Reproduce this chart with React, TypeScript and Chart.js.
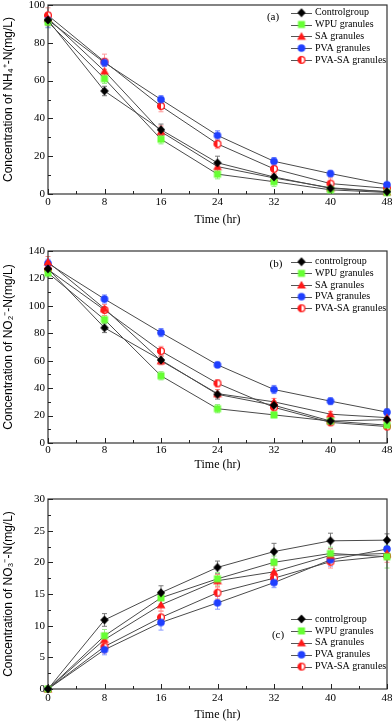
import React, { useEffect, useRef } from 'react';
import { Chart, registerables } from 'chart.js';
Chart.register(...registerables);

// ---------- data ----------
const TIMES = [0, 8, 16, 24, 32, 40, 48];

const NAMES_A = ['Controlgroup', 'WPU granules', 'SA granules', 'PVA granules', 'PVA-SA granules'];
const NAMES_BC = ['controlgroup', 'WPU granules', 'SA granules', 'PVA granules', 'PVA-SA granules'];

// (a) NH4+-N
const A_CONTROL = [92, 54.5, 34, 16.5, 9, 3, 1.2];
const A_WPU = [91, 61, 29, 10.5, 6.5, 2.2, 0.8];
const A_SA = [93, 65, 33, 14.5, 8.5, 3.3, 1.2];
const A_PVA = [92, 69.5, 50, 31, 17.3, 10.8, 4.9];
const A_PVASA = [94.5, 70, 46.5, 26.5, 13.3, 5.5, 3];
const A_CONTROL_ERR = [3, 2.5, 3, 3.5, 1.5, 1.5, 1];
const A_WPU_ERR = [3, 2.5, 2.5, 2.5, 2.5, 1.5, 1];
const A_SA_ERR = [3, 2.5, 3, 2.5, 2, 1.5, 1];
const A_PVA_ERR = [4, 2, 2, 2.5, 2, 1.5, 1];
const A_PVASA_ERR = [4, 4, 3, 2.5, 2.5, 3, 1.5];

// (b) NO2--N
const B_CONTROL = [127, 84, 60.5, 35.5, 27.5, 16, 17];
const B_WPU = [124, 90, 49, 25, 20.5, 16, 13];
const B_SA = [132, 98, 60, 36, 30, 21, 18.5];
const B_PVA = [131, 105, 80.5, 57, 39, 30.5, 22.5];
const B_PVASA = [126.5, 97, 67, 43.5, 26, 15, 12];
const B_CONTROL_ERR = [3, 3.5, 3, 3.5, 3, 2, 2];
const B_WPU_ERR = [3, 3, 3, 3, 2, 2, 2];
const B_SA_ERR = [4, 3, 3, 3, 2.5, 2, 2];
const B_PVA_ERR = [3, 3, 3, 2, 3, 2.5, 2.5];
const B_PVASA_ERR = [4, 4, 3.5, 2.5, 2.5, 2, 2];

// (c) NO3--N
const C_CONTROL = [0, 10.9, 15.2, 19.2, 21.7, 23.4, 23.5];
const C_WPU = [0, 8.4, 14.4, 17.4, 20, 21.4, 20.9];
const C_SA = [0, 7.8, 13.3, 17.1, 18.5, 21.1, 21.4];
const C_PVA = [0, 6.2, 10.5, 13.6, 16.8, 20.4, 22.1];
const C_PVASA = [0, 6.7, 11.3, 15.2, 17.5, 20.1, 21];
const C_CONTROL_ERR = [0, 1, 1.1, 1, 1.3, 1.2, 1];
const C_WPU_ERR = [0, 1, 1, 1, 1, 1, 1.8];
const C_SA_ERR = [0, 1, 1, 1, 1, 1, 1];
const C_PVA_ERR = [0, 0.8, 1.2, 1, 0.8, 1, 1];
const C_PVASA_ERR = [0, 1, 1, 1, 1, 1, 1];

// ---------- styles ----------
const STYLES = [
  { kind: 'diamond', color: '#000000', err: '#777777' },
  { kind: 'square', color: '#66ff33', err: '#99ee88' },
  { kind: 'triangle', color: '#ff1a1a', err: '#ff8888' },
  { kind: 'circle', color: '#1f3fff', err: '#8899ff' },
  { kind: 'half', color: '#ff1a1a', err: '#ff9999' },
];

const SERIF = '"Liberation Serif", "Times New Roman", serif';
const SANS = '"Liberation Sans", Arial, sans-serif';

function makeMarker(kind: string, color: string): HTMLCanvasElement {
  const c = document.createElement('canvas');
  const s = 10;
  c.width = s;
  c.height = s;
  const g = c.getContext('2d')!;
  const m = s / 2;
  g.fillStyle = color;
  g.strokeStyle = color;
  g.beginPath();
  if (kind === 'diamond') {
    g.moveTo(m, 0.5);
    g.lineTo(s - 0.8, m);
    g.lineTo(m, s - 0.5);
    g.lineTo(0.8, m);
    g.closePath();
    g.fill();
  } else if (kind === 'square') {
    g.fillRect(1.5, 1.5, 7, 7);
  } else if (kind === 'triangle') {
    g.moveTo(m, 0.8);
    g.lineTo(s - 0.6, s - 1.5);
    g.lineTo(0.6, s - 1.5);
    g.closePath();
    g.fill();
  } else if (kind === 'circle') {
    g.arc(m, m, 3.8, 0, Math.PI * 2);
    g.fill();
  } else {
    g.fillStyle = '#ffffff';
    g.arc(m, m, 3.4, 0, Math.PI * 2);
    g.fill();
    g.beginPath();
    g.fillStyle = color;
    g.arc(m, m, 3.4, Math.PI / 2, (Math.PI * 3) / 2);
    g.closePath();
    g.fill();
    g.beginPath();
    g.lineWidth = 1.3;
    g.arc(m, m, 3.4, 0, Math.PI * 2);
    g.stroke();
  }
  return c;
}

// ---------- plugins ----------
const errorBarPlugin = {
  id: 'errbars',
  beforeDatasetsDraw(chart: any) {
    const { ctx } = chart;
    const xs = chart.scales.x;
    const ys = chart.scales.y;
    chart.data.datasets.forEach((ds: any) => {
      const errs: number[] = ds.errors;
      if (!errs) return;
      ctx.save();
      ctx.strokeStyle = ds.errColor;
      ctx.lineWidth = 1;
      ds.data.forEach((p: any, j: number) => {
        const e = errs[j];
        if (!e) return;
        const x = xs.getPixelForValue(p.x);
        const y1 = ys.getPixelForValue(p.y + e);
        const y2 = ys.getPixelForValue(p.y - e);
        ctx.beginPath();
        ctx.moveTo(x, y1);
        ctx.lineTo(x, y2);
        ctx.moveTo(x - 2.5, y1);
        ctx.lineTo(x + 2.5, y1);
        ctx.moveTo(x - 2.5, y2);
        ctx.lineTo(x + 2.5, y2);
        ctx.stroke();
      });
      ctx.restore();
    });
  },
};

const framePlugin = {
  id: 'frame',
  beforeDatasetsDraw(chart: any) {
    const { ctx, chartArea: ca } = chart;
    const xs = chart.scales.x;
    const ys = chart.scales.y;
    ctx.save();
    ctx.strokeStyle = '#333333';
    ctx.lineWidth = 1.2;
    ctx.strokeRect(ca.left, ca.top, ca.right - ca.left, ca.bottom - ca.top);
    ctx.lineWidth = 1;
    ctx.strokeStyle = '#222222';
    ctx.beginPath();
    const xt = xs.ticks.map((t: any) => t.value);
    xt.forEach((v: number, i: number) => {
      const px = Math.round(xs.getPixelForValue(v)) + 0.5;
      ctx.moveTo(px, ca.bottom);
      ctx.lineTo(px, ca.bottom - 5);
      if (i < xt.length - 1) {
        const mx = Math.round(xs.getPixelForValue((v + xt[i + 1]) / 2)) + 0.5;
        ctx.moveTo(mx, ca.bottom);
        ctx.lineTo(mx, ca.bottom - 3);
      }
    });
    const yt = ys.ticks.map((t: any) => t.value);
    yt.forEach((v: number, i: number) => {
      const py = Math.round(ys.getPixelForValue(v)) + 0.5;
      ctx.moveTo(ca.left, py);
      ctx.lineTo(ca.left + 5, py);
      if (i < yt.length - 1) {
        const my = Math.round(ys.getPixelForValue((v + yt[i + 1]) / 2)) + 0.5;
        ctx.moveTo(ca.left, my);
        ctx.lineTo(ca.left + 3, my);
      }
    });
    ctx.stroke();
    ctx.restore();
  },
};

const legendPlugin = {
  id: 'inlegend',
  afterDatasetsDraw(chart: any, _args: any, opts: any) {
    const { ctx, chartArea: ca } = chart;
    ctx.save();
    const x0 = ca.right - opts.dx;
    let y = opts.anchor === 'top' ? ca.top + opts.dy : ca.bottom - opts.dy;
    chart.data.datasets.forEach((ds: any) => {
      ctx.strokeStyle = '#555555';
      ctx.lineWidth = 1;
      ctx.beginPath();
      ctx.moveTo(x0, Math.round(y) + 0.5);
      ctx.lineTo(x0 + 21, Math.round(y) + 0.5);
      ctx.stroke();
      const img = ds.pointStyle as HTMLCanvasElement;
      ctx.drawImage(img, x0 + 10.5 - img.width / 2, y - img.height / 2);
      ctx.fillStyle = '#000000';
      ctx.font = '10px ' + SERIF;
      ctx.textBaseline = 'middle';
      ctx.textAlign = 'left';
      ctx.fillText(ds.label, x0 + 24, y);
      y += opts.gap;
    });
    ctx.font = '11px ' + SERIF;
    ctx.textAlign = 'center';
    ctx.textBaseline = 'middle';
    ctx.fillStyle = '#000000';
    const ty = opts.tagAnchor === 'top' ? ca.top + opts.tagDy : ca.bottom - opts.tagDy;
    ctx.fillText(opts.tag, ca.right - opts.tagDx, ty);
    ctx.restore();
  },
};

// ---------- panel ----------
type PanelProps = {
  top: number;
  height: number;
  padTop: number;
  xH: number;
  tickPad: number;
  yMax: number;
  yStep: number;
  yTitle: string;
  names: string[];
  values: number[][];
  errors: number[][];
  legend: any;
};

function Panel(p: PanelProps) {
  const ref = useRef<HTMLCanvasElement | null>(null);
  useEffect(() => {
    const canvas = ref.current!;
    const chartBottom = p.height - 0; // placeholder
    const datasets = p.names.map((name, i) => {
      const st = STYLES[i];
      return {
        label: name,
        data: TIMES.map((t, j) => ({ x: t, y: p.values[i][j] })),
        errors: p.errors[i],
        errColor: st.err,
        borderColor: '#4a4a4a',
        borderWidth: 1,
        pointStyle: makeMarker(st.kind, st.color),
        pointRadius: 4,
        pointHoverRadius: 4,
        fill: false,
        tension: 0,
        clip: false,
      } as any;
    });
    const chart = new Chart(canvas, {
      type: 'line',
      data: { datasets },
      plugins: [errorBarPlugin, framePlugin, legendPlugin],
      options: {
        animation: false,
        responsive: false,
        events: [],
        layout: {
          padding: { top: p.padTop, right: 4, left: 0, bottom: p.height - p.padTop - p.plotH - p.xH },
        },
        plugins: {
          legend: { display: false },
          tooltip: { enabled: false },
          inlegend: p.legend,
        } as any,
        scales: {
          x: {
            type: 'linear',
            min: 0,
            max: 48,
            ticks: {
              stepSize: 8,
              autoSkip: false,
              maxRotation: 0,
              color: '#000000',
              padding: p.tickPad,
              font: { family: SERIF, size: 11 },
            },
            grid: { display: false, drawTicks: false },
            border: { display: false },
            title: {
              display: true,
              text: 'Time (hr)',
              color: '#000000',
              padding: 0,
              font: { family: SERIF, size: 12, lineHeight: 1 },
            },
            afterFit: (s: any) => {
              s.height = p.xH;
              s.paddingLeft = 0;
              s.paddingRight = 0;
            },
          },
          y: {
            min: 0,
            max: p.yMax,
            ticks: {
              stepSize: p.yStep,
              color: '#000000',
              padding: 3,
              font: { family: SERIF, size: 11 },
            },
            grid: { display: false, drawTicks: false },
            border: { display: false },
            title: {
              display: true,
              text: p.yTitle,
              color: '#000000',
              padding: { top: 1, bottom: 0 },
              font: { family: SANS, size: 12, lineHeight: 1.2 },
            },
            afterFit: (s: any) => {
              s.width = 48;
              s.paddingTop = 0;
              s.paddingBottom = 0;
            },
          },
        },
      } as any,
    });
    void chartBottom;
    return () => chart.destroy();
  }, []);
  return (
    <div style={{ position: 'absolute', left: 0, top: p.top, width: 392, height: p.height }}>
      <canvas ref={ref} width={392} height={p.height} style={{ display: 'block' }} />
    </div>
  );
}

export default function App() {
  return (
    <div style={{ position: 'absolute', left: 0, top: 0, width: 392, height: 722, background: '#fff', overflow: 'hidden' }}>
      <Panel
        {...({ plotH: 189 } as any)}
        top={0}
        height={232}
        padTop={5}
        xH={32}
        tickPad={1.5}
        yMax={100}
        yStep={20}
        yTitle="Concentration of NH₄⁺-N(mg/L)"
        names={NAMES_A}
        values={[A_CONTROL, A_WPU, A_SA, A_PVA, A_PVASA]}
        errors={[A_CONTROL_ERR, A_WPU_ERR, A_SA_ERR, A_PVA_ERR, A_PVASA_ERR]}
        legend={{ anchor: 'top', dx: 96, dy: 7.7, gap: 11.8, tag: '(a)', tagAnchor: 'top', tagDx: 114, tagDy: 12 }}
      />
      <Panel
        {...({ plotH: 192 } as any)}
        top={236}
        height={240}
        padTop={15}
        xH={28}
        tickPad={1}
        yMax={140}
        yStep={20}
        yTitle="Concentration of NO₂⁻-N(mg/L)"
        names={NAMES_BC}
        values={[B_CONTROL, B_WPU, B_SA, B_PVA, B_PVASA]}
        errors={[B_CONTROL_ERR, B_WPU_ERR, B_SA_ERR, B_PVA_ERR, B_PVASA_ERR]}
        legend={{ anchor: 'top', dx: 96, dy: 10.7, gap: 11.65, tag: '(b)', tagAnchor: 'top', tagDx: 111, tagDy: 13 }}
      />
      <Panel
        {...({ plotH: 190 } as any)}
        top={476}
        height={246}
        padTop={23}
        xH={32}
        tickPad={3}
        yMax={30}
        yStep={5}
        yTitle="Concentration of NO₃⁻-N(mg/L)"
        names={NAMES_BC}
        values={[C_CONTROL, C_WPU, C_SA, C_PVA, C_PVASA]}
        errors={[C_CONTROL_ERR, C_WPU_ERR, C_SA_ERR, C_PVA_ERR, C_PVASA_ERR]}
        legend={{ anchor: 'bottom', dx: 96, dy: 70, gap: 11.9, tag: '(c)', tagAnchor: 'bottom', tagDx: 109, tagDy: 54 }}
      />
    </div>
  );
}
